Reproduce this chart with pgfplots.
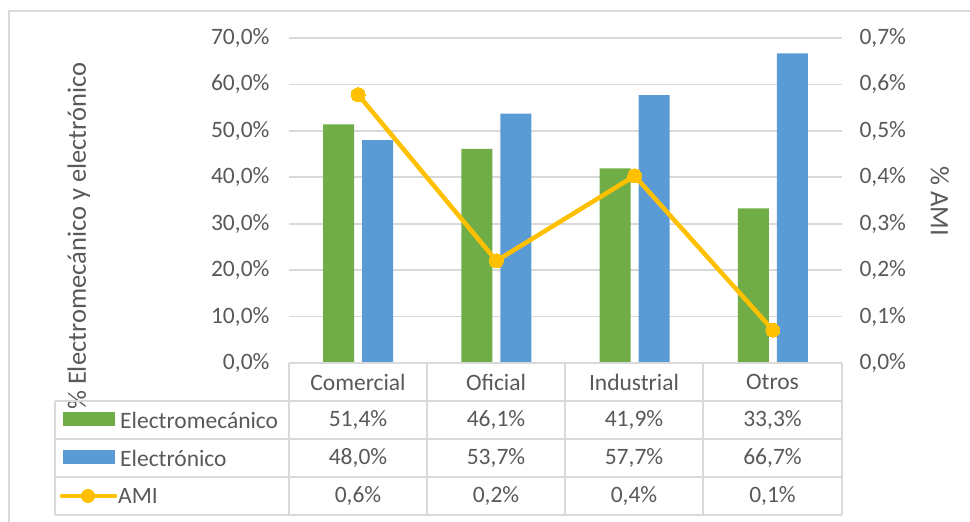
\documentclass[border=0pt]{standalone}
\usepackage{pgfplots}
\usepackage{pgfplotstable}
\pgfplotsset{compat=1.18}
\usepackage{fontspec}
\setmainfont{Carlito}
\definecolor{cgreen}{HTML}{70AD47}
\definecolor{cblue}{HTML}{5B9BD5}
\definecolor{cgold}{HTML}{FFC000}
\definecolor{ctext}{HTML}{595959}
\definecolor{cgrid}{HTML}{D9D9D9}
\newcommand{\fs}{\fontsize{23.5}{28}\selectfont}
\newcommand{\fl}{\fontsize{26.5}{31}\selectfont}

\pgfplotstableread{
x em el ami
0 51.4 48.0 0.578
1 46.1 53.7 0.220
2 41.9 57.7 0.403
3 33.3 66.7 0.071
}\datatab

\begin{document}
\begin{tikzpicture}[x=1pt,y=1pt]
\useasboundingbox (0,0) rectangle (970,522);
\draw[cgrid, line width=2pt] (9,0) -- (9,511) -- (970,511);
\begin{axis}[
  at={(289pt,159pt)}, anchor=south west,
  scale only axis, width=553pt, height=325pt,
  xmin=-0.5, xmax=3.5, ymin=0, ymax=70,
  ybar=8pt, bar width=31pt,
  axis line style={draw=none},
  major tick length=0pt,
  xtick=\empty,
  ytick={0,10,...,70},
  ymajorgrids,
  grid style={cgrid, line width=1.6pt},
  /pgf/number format/assume math mode=true,
  yticklabel={\pgfmathprintnumber[fixed,fixed zerofill,precision=1,use comma]{\tick}\%},
  yticklabel style={font=\fs, text=ctext, anchor=east, xshift=-16pt},
  ylabel={\% Electromecánico y electrónico},
  ylabel style={font=\fl, text=ctext, at={(axis description cs:-0.38,0.39)}, anchor=center},
  clip=false,
]
\addplot[fill=cgreen, draw=none] table[x=x, y=em] {\datatab};
\addplot[fill=cblue, draw=none] table[x=x, y=el] {\datatab};
\end{axis}
\begin{axis}[
  at={(289pt,159pt)}, anchor=south west,
  scale only axis, width=553pt, height=325pt,
  xmin=-0.5, xmax=3.5, ymin=0, ymax=0.7,
  axis x line=none,
  axis y line*=right,
  axis line style={draw=none},
  major tick length=0pt,
  ytick={0,0.1,...,0.71},
  /pgf/number format/assume math mode=true,
  yticklabel={\pgfmathprintnumber[fixed,fixed zerofill,precision=1,use comma]{\tick}\%},
  yticklabel style={font=\fs, text=ctext, anchor=west, xshift=14pt},
  ylabel={\% AMI},
  ylabel style={font=\fl, text=ctext, at={(axis description cs:1.177,0.498)}, anchor=center, rotate=180},
  clip=false,
]
\addplot[cgold, line width=4.5pt, mark=*, mark size=7pt, mark options={fill=cgold, draw=cgold, line width=0pt}] table[x=x, y=ami] {\datatab};
\end{axis}
% data table
\begin{scope}[cgrid, line width=1.8pt]
\draw (289,159) -- (842,159);
\draw (55,121.3) -- (842,121.3);
\draw (55,83) -- (842,83);
\draw (55,45) -- (842,45);
\draw (55,7) -- (842,7);
\draw (55,121.3) -- (55,7);
\foreach \xx in {289,427,565,703,842} \draw (\xx,159) -- (\xx,7);
\end{scope}
\begin{scope}[every node/.style={font=\fs, text=ctext, inner sep=0pt}]
\node at (358,140) {Comercial};
\node at (496,140) {Oficial};
\node at (634,140) {Industrial};
\node at (772.5,140) {Otros};
\node at (358,102) {51,4\%};
\node at (496,102) {46,1\%};
\node at (634,102) {41,9\%};
\node at (772.5,102) {33,3\%};
\node at (358,64) {48,0\%};
\node at (496,64) {53,7\%};
\node at (634,64) {57,7\%};
\node at (772.5,64) {66,7\%};
\node at (358,26) {0,6\%};
\node at (496,26) {0,2\%};
\node at (634,26) {0,4\%};
\node at (772.5,26) {0,1\%};
\node[anchor=west] at (120,102) {Electromecánico};
\node[anchor=west] at (120,64) {Electrónico};
\node[anchor=west] at (118,26) {AMI};
\end{scope}
\fill[cgreen] (63,96) rectangle (115,110);
\fill[cblue] (63,58) rectangle (115,72);
\draw[cgold, line width=4.5pt, line cap=round] (62,26) -- (115,26);
\fill[cgold] (88,26) circle (7);
\end{tikzpicture}
\end{document}
